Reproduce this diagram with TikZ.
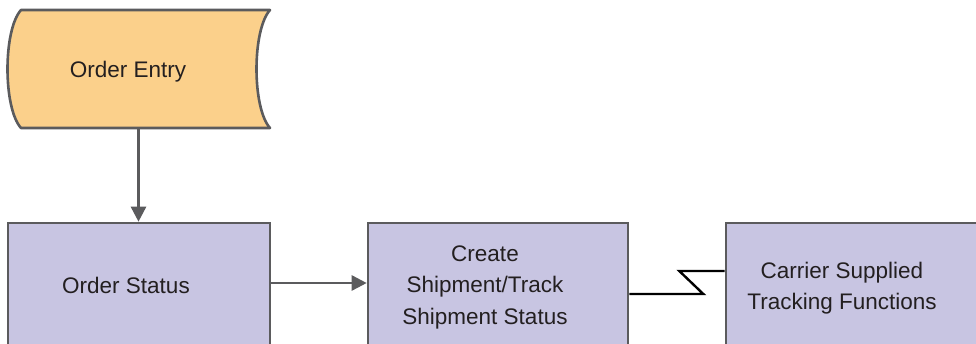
\documentclass[tikz,border=0pt]{standalone}
\usepackage{fontspec}
\setmainfont{Liberation Sans}
\usetikzlibrary{arrows.meta}
\definecolor{entryfill}{HTML}{FBD08B}
\definecolor{boxfill}{HTML}{C8C5E2}
\definecolor{edge}{HTML}{5B5B5D}
\definecolor{ink}{HTML}{231F20}
\tikzset{
  procbox/.style={draw=edge, fill=boxfill, line width=2.6pt, rectangle, inner sep=0pt},
  lbl/.style={text=ink, font=\fontsize{22.5}{31.5}\selectfont, align=center, inner sep=0pt},
  flow/.style={draw=edge, line width=2.6pt, -{Triangle[length=15pt,width=15pt]}},
  link/.style={draw=black, line width=2.4pt, line join=miter}
}
\begin{document}
\begin{tikzpicture}[x=1pt, y=-1pt]
\useasboundingbox (0,0) rectangle (976,343);
\clip (0,0) rectangle (976,343);

% stored-data shape for the order entry step
\node[inner sep=0pt, minimum width=263pt, minimum height=118pt] (entry) at (138.5,69) {};
\draw[draw=edge, fill=entryfill, line width=2.6pt, line join=round]
  (21,10) -- (270,10)
  .. controls (252,30) and (252,108) .. (270,128)
  -- (21,128)
  .. controls (3,108) and (3,30) .. (21,10) -- cycle;
\node[lbl] (entrytext) at (128,72) {Order Entry};

% process boxes (running past the lower and right borders)
\node[procbox, minimum width=262pt, minimum height=124pt] (status) at (139,285) {};
\node[procbox, minimum width=260pt, minimum height=124pt] (ship) at (498,285) {};
\node[procbox, minimum width=264pt, minimum height=124pt] (carrier) at (858,285) {};

\node[lbl] (statustext) at (126,285) {Order Status};
\node[lbl] (shiptext) at (485,287) {Create\\Shipment/Track\\Shipment Status};
\node[lbl] (carriertext) at (842,288) {Carrier Supplied\\Tracking Functions};

% connectors
\draw[flow] (entry.south) -- (status.north -| entry.south);
\draw[flow] ([yshift=2pt]status.east) -- ([yshift=2pt]ship.west);
\draw[link] ([yshift=-9pt]ship.east) -- ++(74,0) -- ++(-24,-23) -- ([yshift=14pt]carrier.west);
\end{tikzpicture}
\end{document}
